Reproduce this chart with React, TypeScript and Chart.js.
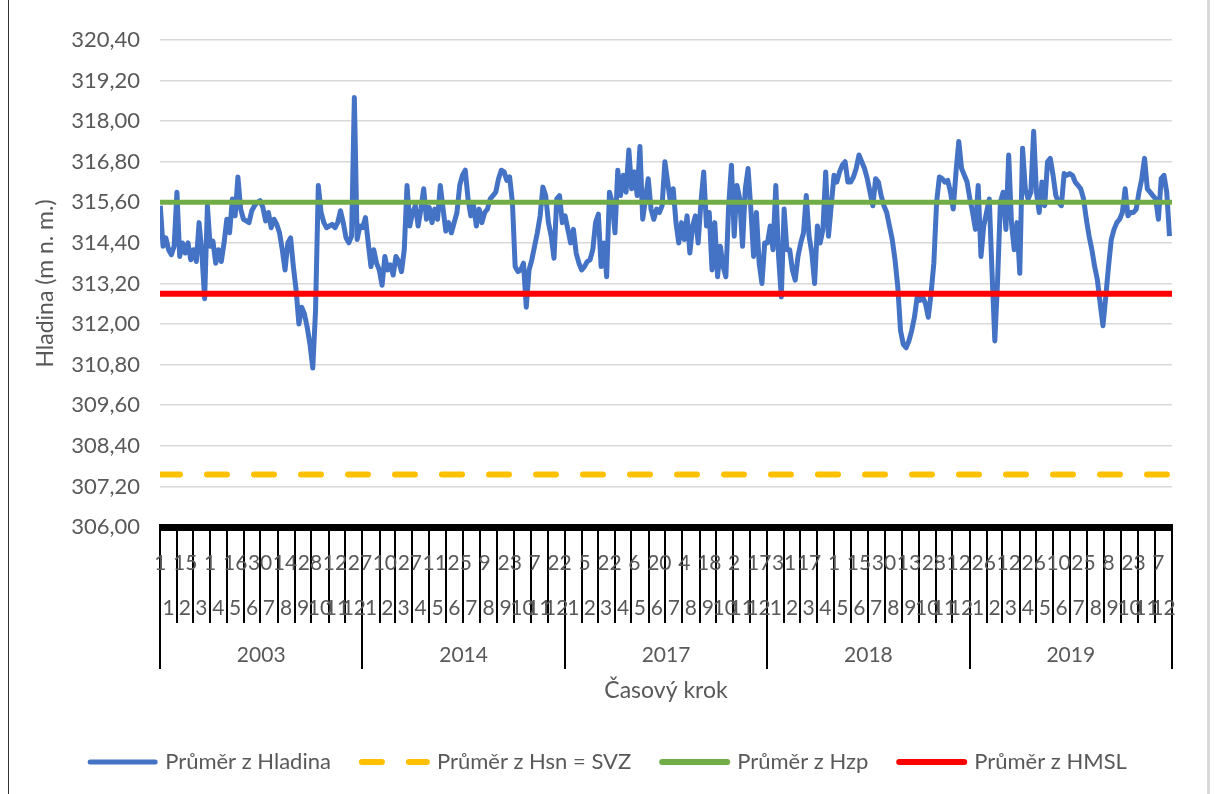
import React, { useEffect, useRef } from "react";
import { Chart, registerables } from "chart.js";

Chart.register(...registerables);

// ---------- data ----------
const years = ["2003", "2014", "2017", "2018", "2019"];
const monthLabels = ["1", "2", "3", "4", "5", "6", "7", "8", "9", "10", "11", "12"];
const monthDays = [31, 28, 31, 30, 31, 30, 31, 31, 30, 31, 30, 31];
const daysPerYear = 365;
const dayTickStep = 45;
const dayTickLabels = [
  "1", "15", "1", "16", "30", "14", "28", "12", "27",
  "10", "27", "11", "25", "9", "23", "7", "22",
  "5", "22", "6", "20", "4", "18", "2", "17",
  "31", "17", "1", "15", "30", "13", "28", "12",
  "26", "12", "26", "10", "25", "8", "23", "7",
];
const sampleStep = 5; // days between readings

const hladina2003 = [
  315.5, 314.3, 314.55, 314.2, 314.05, 314.3, 315.9, 314.0, 314.4, 314.1,
  314.4, 313.9, 314.2, 313.85, 315.0, 314.1, 312.75, 315.5, 314.3, 314.45,
  313.8, 314.2, 313.85, 314.4, 315.1, 314.7, 315.7, 315.2, 316.35, 315.4,
  315.1, 315.05, 315.0, 315.35, 315.5, 315.6, 315.65, 315.45, 315.05, 315.3,
  314.85, 315.1, 314.95, 314.7, 314.2, 313.6, 314.4, 314.55, 313.7, 313.0,
  312.0, 312.5, 312.3, 311.9, 311.4, 310.7, 312.4, 316.1, 315.3, 315.0,
  314.85, 314.9, 314.95, 314.85, 315.0, 315.35, 315.0, 314.55, 314.4, 314.6,
  318.7, 314.5, 314.9,
];
const hladina2014 = [
  314.85, 315.15, 314.4, 313.7, 314.2, 313.8, 313.6, 313.15, 314.0, 313.6,
  313.75, 313.45, 314.0, 313.85, 313.55, 314.2, 316.1, 314.9, 315.3, 315.5,
  314.9, 315.4, 316.0, 315.1, 315.45, 315.0, 315.4, 315.1, 316.1, 315.4,
  314.75, 315.0, 314.7, 315.0, 315.3, 316.1, 316.4, 316.55, 315.7, 315.2,
  315.5, 314.9, 315.4, 315.0, 315.3, 315.4, 315.7, 315.8, 315.9, 316.3,
  316.55, 316.5, 316.25, 316.35, 315.6, 313.7, 313.55, 313.6, 313.8, 312.5,
  313.6, 313.9, 314.3, 314.7, 315.2, 316.05, 315.8, 315.0, 314.6, 313.95,
  315.7, 315.8, 315.0,
];
const hladina2017 = [
  315.2, 314.8, 314.4, 314.8, 314.1, 313.8, 313.6, 313.7, 313.85, 313.9,
  314.2, 315.0, 315.25, 313.7, 314.4, 313.4, 315.9, 315.6, 314.7, 316.55,
  315.8, 316.4, 315.9, 317.15, 316.0, 316.5, 315.8, 317.25, 315.1, 315.7,
  316.3, 315.4, 315.1, 315.4, 315.3, 315.5, 316.8, 316.2, 315.6, 316.0,
  315.0, 314.4, 315.0, 314.5, 315.2, 314.1, 314.9, 315.2, 314.4, 315.6,
  316.5, 314.9, 315.3, 313.6, 315.0, 313.4, 314.3, 313.7, 313.4, 315.5,
  316.7, 314.6, 316.1, 315.7, 314.3, 316.0, 316.6, 315.4, 314.0, 315.3,
  313.8, 313.2, 314.4,
];
const hladina2018 = [
  314.4, 314.9, 314.2, 316.1, 314.0, 312.8, 315.4, 314.2, 314.2, 313.6,
  313.3, 314.0, 314.4, 314.7, 315.8, 314.6, 314.1, 313.2, 314.9, 314.4,
  314.8, 316.5, 314.6, 315.5, 316.4, 316.2, 316.5, 316.7, 316.8, 316.2,
  316.2, 316.35, 316.6, 317.0, 316.8, 316.6, 316.3, 315.9, 315.5, 316.3,
  316.2, 315.8, 315.5, 315.3, 314.9, 314.5, 313.9, 313.1, 311.8, 311.4,
  311.3, 311.5, 311.8, 312.2, 312.8, 312.7, 312.8, 312.6, 312.2, 312.9,
  313.8, 315.6, 316.35, 316.3, 316.2, 316.25, 315.9, 315.4, 316.5, 317.4,
  316.6, 316.4, 316.2,
];
const hladina2019 = [
  315.7, 315.3, 314.8, 316.1, 314.0, 314.9, 315.3, 315.7, 313.5, 311.5,
  313.3, 315.6, 315.9, 314.8, 317.0, 315.0, 314.2, 315.0, 313.5, 317.2,
  316.0, 315.7, 315.9, 317.7, 315.9, 315.3, 316.2, 315.5, 316.8, 316.9,
  316.4, 315.8, 315.6, 315.5, 316.45, 316.4, 316.45, 316.4, 316.2, 316.1,
  316.0, 315.7, 315.1, 314.6, 314.2, 313.7, 313.3, 312.6, 311.95, 312.8,
  313.7, 314.5, 314.8, 315.0, 315.1, 315.3, 316.0, 315.2, 315.3, 315.3,
  315.4, 315.9, 316.3, 316.9, 316.0, 315.9, 315.8, 315.7, 315.1, 316.3,
  316.4, 315.9, 314.6,
];
const hladinaByYear = [hladina2003, hladina2014, hladina2017, hladina2018, hladina2019];

const hsnSVZ = 307.55;
const hzp = 315.6;
const hmsl = 312.9;

const yMin = 306.0;
const yMax = 320.4;
const yStep = 1.2;

const seriesNames = ["Průměr z Hladina", "Průměr z Hsn = SVZ", "Průměr z Hzp", "Průměr z HMSL"];
const seriesColors = ["#4472C4", "#FFC000", "#70AD47", "#FF0000"];

const xTitle = "Časový krok";
const yTitle = "Hladina (m n. m.)";

// ---------- styling ----------
const FONT = "Lato, 'Liberation Sans', sans-serif";
const TEXT = "#595959";
const W = 1214;
const H = 794;

const totalDays = years.length * daysPerYear;
const xLo = -0.5;
const xHi = totalDays - 0.5;

const axisPlugin = {
  id: "multiLevelAxis",
  afterDraw(chart: any) {
    const ctx = chart.ctx as CanvasRenderingContext2D;
    const xs = chart.scales.x;
    const ys = chart.scales.y;
    const area = chart.chartArea;
    const y0 = ys.getPixelForValue(yMin);
    const px = (d: number) => xs.getPixelForValue(d);
    ctx.save();

    // dense tick band
    ctx.fillStyle = "#000";
    ctx.fillRect(area.left - 1, y0 - 3, area.right - area.left + 2, 7);

    const bandBottom = y0 + 4;
    const monthLineBottom = 623;
    const yearLineBottom = 669;
    ctx.strokeStyle = "#000";
    ctx.lineWidth = 2;

    // month & year separators
    years.forEach((_, k) => {
      let cum = 0;
      for (let m = 0; m <= monthDays.length; m++) {
        const x = Math.round(px(k * daysPerYear + cum - 0.5));
        const isYear = m === 0 || m === monthDays.length;
        ctx.beginPath();
        ctx.moveTo(x, bandBottom);
        ctx.lineTo(x, isYear ? yearLineBottom : monthLineBottom);
        ctx.stroke();
        if (m < monthDays.length) cum += monthDays[m];
      }
    });

    ctx.fillStyle = TEXT;
    ctx.font = `21px ${FONT}`;
    ctx.textAlign = "center";
    ctx.textBaseline = "middle";

    // day labels
    dayTickLabels.forEach((lab, j) => {
      ctx.fillText(lab, px(j * dayTickStep), 563);
    });

    // month labels
    years.forEach((_, k) => {
      let cum = 0;
      monthDays.forEach((len, m) => {
        const mid = k * daysPerYear + cum + len / 2 - 0.5;
        ctx.fillText(monthLabels[m], px(mid), 608);
        cum += len;
      });
      ctx.fillText(years[k], px(k * daysPerYear + daysPerYear / 2 - 0.5), 655);
    });

    // axis titles
    ctx.font = `23px ${FONT}`;
    ctx.fillText(xTitle, (area.left + area.right) / 2, 691);
    ctx.save();
    ctx.translate(46, (area.top + area.bottom) / 2);
    ctx.rotate(-Math.PI / 2);
    ctx.fillText(yTitle, 0, 0);
    ctx.restore();

    // legend
    ctx.font = `22px ${FONT}`;
    const sampleW = 71;
    const textGap = 7;
    const itemGap = 28;
    const widths = seriesNames.map((n) => sampleW + textGap + ctx.measureText(n).width);
    const total = widths.reduce((a, b) => a + b, 0) + itemGap * (seriesNames.length - 1);
    let lx = (W - total) / 2;
    const ly = 762;
    seriesNames.forEach((name, i) => {
      ctx.save();
      ctx.strokeStyle = seriesColors[i];
      ctx.lineWidth = i === 0 ? 5 : 6;
      ctx.lineCap = "round";
      if (i === 1) ctx.setLineDash([20, 27]);
      ctx.beginPath();
      ctx.moveTo(lx + 3, ly);
      ctx.lineTo(lx + sampleW - 3, ly);
      ctx.stroke();
      ctx.restore();
      ctx.fillStyle = TEXT;
      ctx.textAlign = "left";
      ctx.fillText(name, lx + sampleW + textGap, ly);
      lx += widths[i] + itemGap;
    });

    ctx.restore();
  },
};

export default function App() {
  const ref = useRef<HTMLCanvasElement | null>(null);

  useEffect(() => {
    if (!ref.current) return;
    const hladinaPoints = hladinaByYear.flatMap((arr, k) =>
      arr.map((v, i) => ({ x: k * daysPerYear + i * sampleStep, y: v }))
    );
    const flat = (v: number) => [
      { x: xLo, y: v },
      { x: xHi, y: v },
    ];
    const chart = new Chart(ref.current, {
      type: "line",
      data: {
        datasets: [
          {
            label: seriesNames[0],
            data: hladinaPoints,
            borderColor: seriesColors[0],
            borderWidth: 5,
            borderJoinStyle: "round",
            pointRadius: 0,
            tension: 0,
            order: 4,
          },
          {
            label: seriesNames[1],
            data: flat(hsnSVZ),
            borderColor: seriesColors[1],
            borderWidth: 6,
            borderDash: [20, 27],
            borderCapStyle: "round",
            pointRadius: 0,
            order: 3,
          },
          {
            label: seriesNames[2],
            data: flat(hzp),
            borderColor: seriesColors[2],
            borderWidth: 5,
            pointRadius: 0,
            order: 2,
          },
          {
            label: seriesNames[3],
            data: flat(hmsl),
            borderColor: seriesColors[3],
            borderWidth: 6,
            pointRadius: 0,
            order: 1,
          },
        ],
      },
      options: {
        animation: false,
        responsive: false,
        devicePixelRatio: 1,
        layout: { padding: { left: 0, top: 40, right: W - 1172, bottom: H - 527 } },
        plugins: { legend: { display: false }, tooltip: { enabled: false } },
        scales: {
          x: { type: "linear", min: xLo, max: xHi, display: false },
          y: {
            min: yMin,
            max: yMax,
            afterFit: (s: any) => {
              s.width = 160;
            },
            ticks: {
              stepSize: yStep,
              padding: 20,
              color: TEXT,
              font: { family: FONT, size: 22 },
              callback: (v: any) => Number(v).toFixed(2).replace(".", ","),
            },
            grid: { color: "#D9D9D9", lineWidth: 1.5, drawTicks: false },
            border: { display: false },
          },
        },
      },
      plugins: [axisPlugin],
    } as any);
    return () => chart.destroy();
  }, []);

  return (
    <div style={{ position: "absolute", left: 0, top: 0, width: W, height: H, background: "#fff" }}>
      <canvas ref={ref} width={W} height={H} style={{ width: W, height: H, display: "block" }} />
      <div style={{ position: "absolute", left: 8, top: 0, width: 1, height: H, background: "#333" }} />
      <div style={{ position: "absolute", left: 1207, top: 0, width: 3, height: H, background: "#D9D9D9" }} />
    </div>
  );
}
